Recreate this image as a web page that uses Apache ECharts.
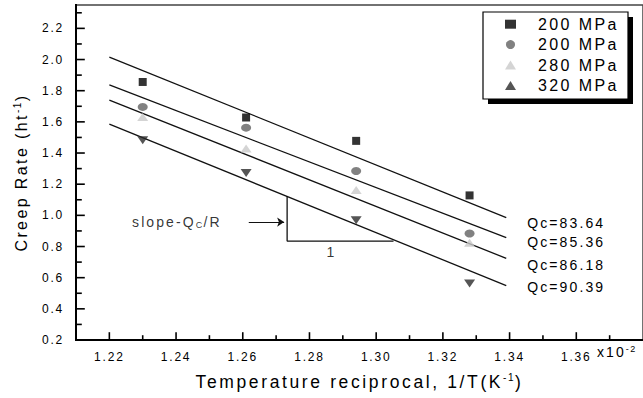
<!DOCTYPE html>
<html>
<head>
<meta charset="utf-8">
<script src="https://cdn.jsdelivr.net/npm/echarts@6/dist/echarts.min.js"></script>
<style>
  html, body { margin: 0; padding: 0; background: #fff; }
  #chart { width: 643px; height: 398px; }
  #chart text { letter-spacing: 0.15em; }
</style>
</head>
<body>
<div id="chart"></div>
<script>
// ---- data ----
const seriesNames = ['200 MPa', '200 MPa ', '280 MPa', '320 MPa'];
const tempX = [1.230, 1.261, 1.294, 1.328];
const rateSquare = [1.856, 1.628, 1.478, 1.128];
const rateCircle = [1.696, 1.563, 1.285, 0.884];
const rateTriangle = [1.631, 1.429, 1.162, 0.824];
const rateDown = [1.482, 1.272, 0.969, 0.563];

const fitX = [1.220, 1.339];
const fit1 = [2.016, 0.985];
const fit2 = [1.837, 0.857];
const fit3 = [1.740, 0.724];
const fit4 = [1.586, 0.549];
const fitLabels = ['Qc=83.64', 'Qc=85.36', 'Qc=86.18', 'Qc=90.39'];

const xMin = 1.21, xMax = 1.38, yMin = 0.2, yMax = 2.35;
const xTicks = [1.22, 1.24, 1.26, 1.28, 1.30, 1.32, 1.34, 1.36];
const xMinorTicks = [1.23, 1.25, 1.27, 1.29, 1.31, 1.33, 1.35, 1.37];
const yTicks = [0.2, 0.4, 0.6, 0.8, 1.0, 1.2, 1.4, 1.6, 1.8, 2.0, 2.2];
const yMinorTicks = [0.3, 0.5, 0.7, 0.9, 1.1, 1.3, 1.5, 1.7, 1.9, 2.1, 2.3];

// annotation (data coordinates)
const slopeTextAt = [1.2268, 0.957];
const arrowFrom = [1.2618, 0.957];
const arrowTo = [1.2724, 0.957];
const triangleX = [1.2733, 1.2733, 1.3052];
const triangleY = [1.124, 0.835, 0.835];
const oneLabelAt = [1.2866, 0.765];

// ---- letter spacing aware text measuring ----
const LS = 0.15;
const mctx = document.createElement('canvas').getContext('2d');
echarts.setPlatformAPI({
  measureText: function (text, font) {
    mctx.font = font || '12px sans-serif';
    const m = mctx.measureText(text);
    const fm = /([\d.]+)px/.exec(font || '');
    const fs = fm ? parseFloat(fm[1]) : 12;
    return {
      width: m.width + (text ? text.length : 0) * fs * LS,
      actualBoundingBoxAscent: m.actualBoundingBoxAscent,
      actualBoundingBoxDescent: m.actualBoundingBoxDescent
    };
  }
});

const FONT = 'Liberation Sans';
const chart = echarts.init(document.getElementById('chart'), null, { renderer: 'svg' });

function pts(xs, ys) { return xs.map((x, i) => [x, ys[i]]); }

const fits = [fit1, fit2, fit3, fit4];
const labelDy = [5, 4, 7, 1];
const fitSeries = fits.map((f, k) => ({
  type: 'line',
  name: 'fit' + k,
  data: pts(fitX, f),
  showSymbol: false, symbol: 'none',
  lineStyle: { color: '#111', width: 1.3 },
  endLabel: {
    show: true, distance: 14, offset: [7, labelDy[k]],
    formatter: fitLabels[k], fontFamily: FONT, fontSize: 14, color: '#000'
  },
  silent: true, animation: false, z: 2
}));

const symbolDefs = [
  { symbol: 'rect', size: 8, color: '#000000', data: rateSquare },
  { symbol: 'circle', size: [10, 8], color: '#616161', data: rateCircle },
  { symbol: 'triangle', size: [11, 8], color: '#c9c9c9', data: rateTriangle },
  { symbol: 'triangle', size: [11, 8], color: '#2b2b2b', data: rateDown, rotate: 180 }
];
const scatterSeries = symbolDefs.map((d, k) => ({
  type: 'scatter',
  name: seriesNames[k],
  data: pts(tempX, d.data),
  symbol: d.symbol,
  symbolSize: d.size,
  symbolRotate: d.rotate || 0,
  itemStyle: { color: d.color },
  animation: false, z: 3
}));

const annotSeries = [
  {
    type: 'line', name: 'triangle', data: pts(triangleX, triangleY),
    symbol: 'none', lineStyle: { color: '#111', width: 1.3 }, animation: false, silent: true,
    markLine: {
      silent: true, animation: false,
      symbol: ['none', 'arrow'], symbolSize: 7,
      lineStyle: { color: '#111', width: 1.2, type: 'solid' },
      label: { show: false },
      data: [[{ coord: arrowFrom }, { coord: arrowTo }]]
    }
  },
  {
    type: 'scatter', name: 'slopeText', data: [slopeTextAt], symbolSize: 0, silent: true, animation: false,
    label: {
      show: true, position: 'right', distance: 0,
      formatter: 'slope-Q{sub|C}/R',
      fontFamily: FONT, fontSize: 14, color: '#000',
      rich: { sub: { fontFamily: FONT, fontSize: 9, verticalAlign: 'bottom', padding: [6, 0, 0, 0], color: '#000' } }
    }
  },
  {
    type: 'scatter', name: 'oneText', data: [oneLabelAt], symbolSize: 0, silent: true, animation: false,
    label: { show: true, position: 'inside', formatter: '1', fontFamily: FONT, fontSize: 14, color: '#000' }
  }
];

const axisLineStyle = { color: '#000', width: 2 };

const baseGraphic = [
  { type: 'rect', shape: { x: 488, y: 17, width: 145, height: 87 }, style: { fill: '#000' }, z: 0 },
  { type: 'rect', shape: { x: 483, y: 12, width: 145, height: 87 }, style: { fill: '#fff', stroke: '#000', lineWidth: 1.2 }, z: 1 },
  {
    type: 'text', left: 597, top: 344,
    style: {
      text: 'x10{sup|-2}', fontFamily: FONT, fontSize: 14, fill: '#000',
      rich: { sup: { fontFamily: FONT, fontSize: 9, verticalAlign: 'top', padding: [0, 0, 6, 0] } }
    }
  }
];

chart.setOption({
  backgroundColor: '#fff',
  animation: false,
  grid: {
    left: 76, right: -7, top: 5, bottom: 58,
    show: true, borderColor: '#444', borderWidth: 1.5, backgroundColor: 'transparent'
  },
  legend: {
    orient: 'vertical', left: 500, top: 10,
    itemWidth: 11, itemHeight: 9, itemGap: 2,
    data: seriesNames,
    textStyle: { fontFamily: FONT, fontSize: 16, color: '#000', padding: [0, 0, 0, 17] },
    selectedMode: false
  },
  xAxis: {
    type: 'value', min: xMin, max: xMax,
    name: 'Temperature reciprocal, 1/T(K{sup|-1})',
    nameLocation: 'middle', nameGap: 32,
    nameTextStyle: {
      fontFamily: FONT, fontSize: 17.5, color: '#000',
      rich: { sup: { fontFamily: FONT, fontSize: 10, verticalAlign: 'top', padding: [0, 0, 8, 0], color: '#000' } }
    },
    axisLine: { show: true, onZero: false, lineStyle: axisLineStyle },
    axisTick: { show: false },
    axisLabel: {
      customValues: xTicks, margin: 10, fontFamily: FONT, fontSize: 12, color: '#000',
      formatter: v => v.toFixed(2)
    },
    splitLine: { show: false }
  },
  yAxis: {
    type: 'value', min: yMin, max: yMax,
    name: 'Creep Rate (ht{sup|-1})',
    nameLocation: 'middle', nameGap: 44, nameRotate: 90,
    nameTextStyle: {
      fontFamily: FONT, fontSize: 16, color: '#000',
      rich: { sup: { fontFamily: FONT, fontSize: 10, verticalAlign: 'top', padding: [0, 0, 8, 0], color: '#000' } }
    },
    axisLine: { show: true, onZero: false, lineStyle: axisLineStyle },
    axisTick: { show: false },
    axisLabel: {
      customValues: yTicks, margin: 12, fontFamily: FONT, fontSize: 12, color: '#000',
      formatter: v => v.toFixed(1)
    },
    splitLine: { show: false }
  },
  graphic: baseGraphic,
  series: [...fitSeries, ...scatterSeries, ...annotSeries]
});

// axis frame lines and inside tick marks, positioned through the chart's own scales
const toPx = p => chart.convertToPixel({ gridIndex: 0 }, p);
const frame = [];
function seg(a, b, w) {
  frame.push({
    type: 'line', silent: true, z: 100,
    shape: { x1: a[0], y1: a[1], x2: b[0], y2: b[1] },
    style: { stroke: '#000', lineWidth: w, lineCap: 'square' }
  });
}
const origin = toPx([xMin, yMin]);
seg(origin, toPx([xMax, yMin]), 2);
seg(origin, toPx([xMin, yMax]), 2);
xTicks.forEach(v => { const p = toPx([v, yMin]); seg(p, [p[0], p[1] - 7], 1.6); });
xMinorTicks.forEach(v => { const p = toPx([v, yMin]); seg(p, [p[0], p[1] - 4], 1.6); });
yTicks.forEach(v => { const p = toPx([xMin, v]); seg(p, [p[0] + 8, p[1]], 1.6); });
yMinorTicks.forEach(v => { const p = toPx([xMin, v]); seg(p, [p[0] + 5, p[1]], 1.6); });
chart.setOption({ graphic: baseGraphic.concat(frame) });
</script>
</body>
</html>
